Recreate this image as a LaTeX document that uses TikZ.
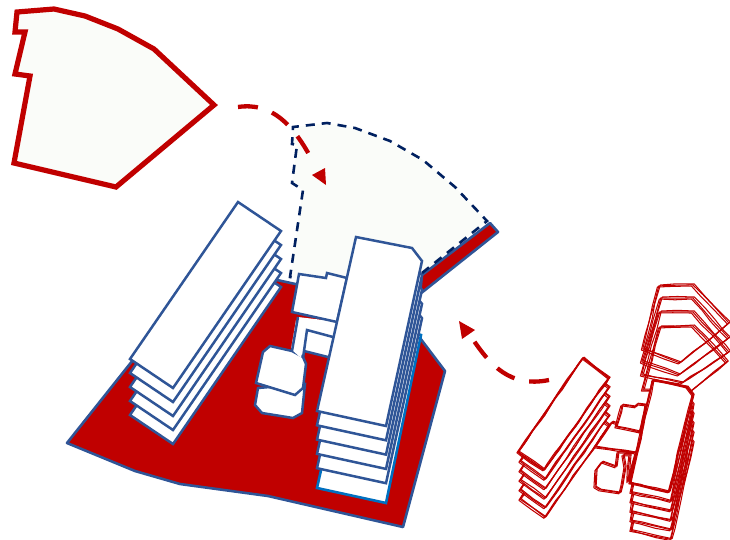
\documentclass[tikz,border=0pt]{standalone}
\usetikzlibrary{decorations.pathmorphing}
\definecolor{dred}{HTML}{C00000}
\definecolor{bblue}{HTML}{2F5597}
\definecolor{lblue}{HTML}{0070C0}
\definecolor{navy}{HTML}{002060}
\definecolor{pale}{HTML}{FAFCF9}
\tikzset{
  plan/.style={draw=bblue,line width=2.5pt,fill=white,line join=miter,miter limit=3},
  planline/.style={draw=bblue,line width=2.5pt,line join=miter},
  redarea/.style={draw=bblue,line width=2.6pt,fill=dred,line join=round},
  site/.style={draw=dred,line width=5.2pt,fill=pale,line join=miter},
  move/.style={draw=dred,line width=4.3pt,dash pattern=on 20pt off 15pt},
  movehead/.style={fill=dred},
  bound/.style={draw=navy,line width=2.6pt,dash pattern=on 9pt off 7pt},
  sketch/.style={draw=dred,line width=1.05pt,line join=round,
    decorate,decoration={random steps,segment length=15pt,amplitude=.8pt}}
}
% white-filled sketch outline drawn as several wobbling strokes
\newcommand\skt[1]{%
  \fill[white] #1;
  \foreach \dx/\dy in {-1.1/-.8,.1/.2,1.1/.8}{\draw[sketch,shift={(\dx pt,\dy pt)}] #1;}%
}
\newcommand\sko[1]{%
  \foreach \dx/\dy in {-1.6/-1,-.2/.1,1.3/1}{\draw[sketch,shift={(\dx pt,\dy pt)}] #1;}%
}
\begin{document}
\begin{tikzpicture}[x=1pt,y=-1pt]
\useasboundingbox (0,0) rectangle (730,539);
\pgfmathsetseed{7}
% existing site, top left
\draw[site] (17,12) -- (54,9) -- (85,16) -- (118,29) -- (154,49) -- (214,105) -- (116,187) -- (14,163) -- (30,76) -- (15,74) -- (25,32) -- (15,32) -- cycle;
% red ground
\draw[redarea] (67,443) -- (133,360) -- (277,280) -- (300,285) -- (420,338) -- (445,371) -- (403,527) -- (268,496) -- (180,484) -- (135,471) -- cycle;
\draw[redarea] (422,275) -- (490,223) -- (498,232) -- (420,294) -- cycle;
% dashed area
\fill[pale] (293,127) -- (327,123) -- (355,128) -- (390,141) -- (423,160) -- (455,187) -- (487,221) -- (422,273) -- (340,300) -- (300,279) -- (290,277) -- (303,190) -- (292,183) -- (297,145) -- (292,144) -- cycle;
\draw[bound] (422,273) -- (487,221) -- (455,187) -- (423,160) -- (390,141) -- (355,128) -- (327,123) -- (293,127) -- (292,144) -- (297,145) -- (292,183) -- (303,190) -- (290,277) -- (300,279);
% left slab stack
\foreach \k in {4,3,2,1,0}{
  \draw[plan,shift={(0,14*\k)}] (238,202) -- (281,231) -- (173,388) -- (130,359) -- cycle;
}
% connecting white pieces
\draw[plan] (305,384) -- (302,413) -- (293,418) -- (262,413) -- (255,405) -- (258,388) -- cycle;
\fill[white] (298,317) -- (292,351) -- (303,357) -- (307,330) -- (333,337) -- (340,322) -- cycle;
\draw[plan] (292,351) -- (270,346) -- (263,352) -- (256,383) -- (295,395) -- (303,388) -- (306,364) -- (303,357) -- cycle;
\fill[white] (291,349) -- (296,320) -- (306,330) -- (301,358) -- cycle;
\draw[planline] (298,317) -- (292,351);
\fill[white] (307,330) -- (333,337) -- (328,357) -- (304,351) -- cycle;
\draw[planline] (303,358) -- (307,330) -- (333,337);
\draw[planline] (304,351) -- (328,357);
\draw[plan] (299,274) -- (326,278) -- (327,273) -- (347,278) -- (337,322) -- (292,312) -- cycle;
% right building stack
\draw[draw=lblue,line width=2.6pt,fill=white,line join=miter] (356,314) -- (421,335) -- (386,503) -- (317,488) -- cycle;
\foreach \k in {4,3,2,1,0}{
  \draw[plan,shift={(0,14.3*\k)}] (356,237) -- (412,248) -- (422,261) -- (386,426) -- (317,411) -- cycle;
}
% moves
\coordinate (a1) at (238,107);
\coordinate (a2) at (311,158);
\draw[move] (a1) .. controls (272,102) and (293,125) .. (a2);
\path[movehead] (312,175) -- (325,168) -- (326,185) -- cycle;
\coordinate (b1) at (549,380);
\coordinate (b2) at (472,338);
\draw[move] (b1) .. controls (510,388) and (490,365) .. (b2);
\path[movehead] (459,321) -- (475,330) -- (462,339) -- cycle;
% sketch: top right pentagons
\sko{(659,286) -- (693,285) -- (729,323) -- (680,363) -- (643,349) -- cycle}
\sko{(661,298) -- (693,298) -- (729,338) -- (679,375) -- (642,362) -- cycle}
\sko{(660,312) -- (693,312) -- (729,352) -- (682,383) -- (642,375) -- cycle}
\sko{(660,327) -- (693,326) -- (727,362) -- (690,392) -- (643,390) -- cycle}
% sketch: left slab stack
\foreach \k in {5,4,3,2,1}{
  \skt{(583,358+9.5*\k) -- (609,378+9.5*\k) -- (545,470+9.5*\k) -- (520,452+9.5*\k) -- cycle}
}
\skt{(583,358) -- (609,378) -- (544,470) -- (518,452) -- cycle}
\draw[sketch,line width=1.6pt] (518,452) -- (544,470) -- (609,378) -- (583,358) -- cycle;
% sketch: connectors
\skt{(612,422) -- (595,447) -- (636,453) -- (643,433) -- cycle}
\skt{(622,405) -- (636,407) -- (637,404) -- (646,405) -- (640,432) -- (616,427) -- cycle}
\skt{(618,452) -- (616,467) -- (602,462) -- (596,470) -- (595,487) -- (600,490) -- (620,493) -- (622,485) -- (625,467) -- (623,455) -- (630,455) -- (628,482) -- (636,453) -- cycle}
% sketch: tower stack
\foreach \k in {5,4,3,2,1}{
  \skt{(653,380+9.5*\k) -- (687,387+9.5*\k) -- (693,395+9.5*\k) -- (671,492+9.5*\k) -- (631,483+9.5*\k) -- cycle}
}
\skt{(653,380) -- (687,387) -- (693,395) -- (669,492) -- (630,483) -- cycle}
\draw[sketch,line width=1.8pt] (653,380) -- (687,387) -- (693,395) -- (669,492) -- (630,483) -- cycle;
\end{tikzpicture}
\end{document}
